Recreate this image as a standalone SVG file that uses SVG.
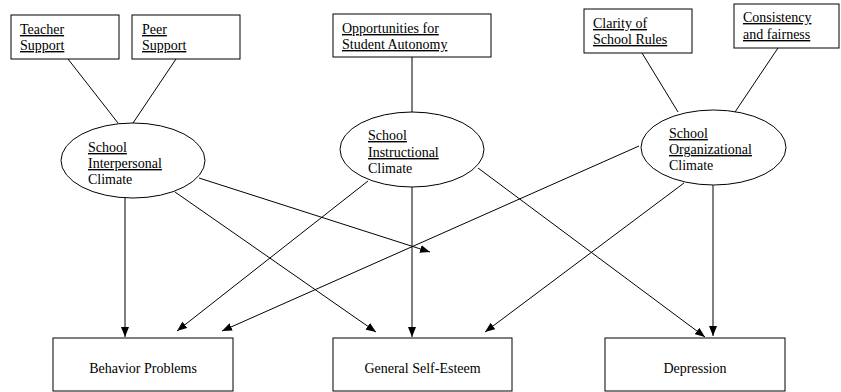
<svg xmlns="http://www.w3.org/2000/svg" width="841" height="392" viewBox="0 0 841 392">
<style>
  .box{fill:#fff;stroke:#000;stroke-width:1}
  .ell{fill:#fff;stroke:#000;stroke-width:1}
  text{font-family:'Liberation Serif','Times New Roman','DejaVu Serif',serif;font-size:14px;fill:#000}
  .u{text-decoration:underline}
  .c{text-anchor:middle}
  .ln{stroke:#000;stroke-width:1;fill:none}
  .ar{stroke:#000;stroke-width:1;fill:none;marker-end:url(#ah)}
</style>
<defs>
  <marker id="ah" viewBox="0 0 10 8" refX="10" refY="4" markerWidth="10" markerHeight="8" markerUnits="userSpaceOnUse" orient="auto">
    <path d="M0,0 L10,4 L0,8 Z" fill="#000"/>
  </marker>
</defs>
<rect width="841" height="392" fill="#fff"/>
<g id="connectors">
  <line class="ln" x1="68" y1="59" x2="118" y2="123"/>
  <line class="ln" x1="176" y1="59" x2="133" y2="123"/>
  <line class="ln" x1="412" y1="57" x2="412" y2="112"/>
  <line class="ln" x1="642" y1="53" x2="678" y2="112"/>
  <line class="ln" x1="778" y1="48" x2="735" y2="112"/>
  <line class="ar" x1="125" y1="198" x2="125" y2="337"/>
  <line class="ar" x1="175" y1="192" x2="376" y2="332"/>
  <line class="ar" x1="199" y1="178" x2="430" y2="252"/>
  <line class="ar" x1="368" y1="181" x2="177" y2="331"/>
  <line class="ar" x1="412" y1="187" x2="412" y2="337"/>
  <line class="ar" x1="478" y1="168" x2="705" y2="337"/>
  <line class="ar" x1="639" y1="146" x2="222" y2="331"/>
  <line class="ar" x1="684" y1="183" x2="485" y2="332"/>
  <line class="ar" x1="713" y1="185" x2="713" y2="336"/>
</g>
<g id="teacher-support">
  <rect class="box" x="11" y="15" width="108" height="44"/>
  <text class="u" x="20" y="34">Teacher</text>
  <text class="u" x="20" y="50">Support</text>
</g>
<g id="peer-support">
  <rect class="box" x="132" y="15" width="108" height="44"/>
  <text class="u" x="142" y="34">Peer</text>
  <text class="u" x="142" y="50">Support</text>
</g>
<g id="opportunities">
  <rect class="box" x="333" y="14" width="158" height="43"/>
  <text class="u" x="342" y="33">Opportunities for</text>
  <text class="u" x="342" y="49">Student Autonomy</text>
</g>
<g id="clarity">
  <rect class="box" x="584" y="9" width="108" height="44"/>
  <text class="u" x="593" y="28">Clarity of</text>
  <text class="u" x="593" y="44">School Rules</text>
</g>
<g id="consistency">
  <rect class="box" x="734" y="4" width="105" height="44"/>
  <text class="u" x="743" y="22">Consistency</text>
  <text class="u" x="743" y="39">and fairness</text>
</g>
<g id="interpersonal">
  <ellipse class="ell" cx="133" cy="160.5" rx="72" ry="37.5"/>
  <text class="u" x="88" y="152">School</text>
  <text class="u" x="88" y="168">Interpersonal</text>
  <text x="88" y="184">Climate</text>
</g>
<g id="instructional">
  <ellipse class="ell" cx="412" cy="149.5" rx="72" ry="37.5"/>
  <text class="u" x="368" y="140">School</text>
  <text class="u" x="368" y="157">Instructional</text>
  <text x="368" y="173">Climate</text>
</g>
<g id="organizational">
  <ellipse class="ell" cx="713.5" cy="147.5" rx="72.5" ry="37.5"/>
  <text class="u" x="669" y="138">School</text>
  <text class="u" x="669" y="154">Organizational</text>
  <text x="669" y="170">Climate</text>
</g>
<g id="behavior-problems">
  <rect class="box" x="53" y="338" width="180" height="53"/>
  <text class="c" x="143" y="373">Behavior Problems</text>
</g>
<g id="self-esteem">
  <rect class="box" x="333" y="338" width="179" height="53"/>
  <text class="c" x="422.5" y="373">General Self-Esteem</text>
</g>
<g id="depression">
  <rect class="box" x="605" y="338" width="180" height="53"/>
  <text class="c" x="695" y="373">Depression</text>
</g>
</svg>
